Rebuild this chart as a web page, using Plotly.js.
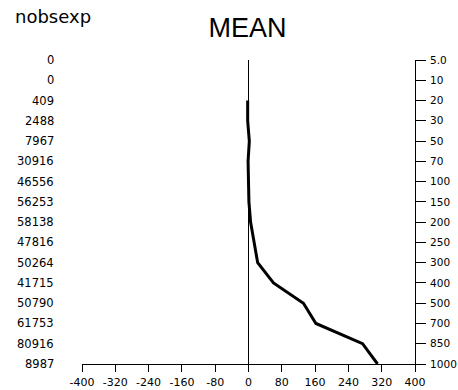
<!DOCTYPE html>
<html>
<head>
<meta charset="utf-8">
<script src="https://cdn.plot.ly/plotly-3.0.1.min.js"></script>
<style>html,body{margin:0;padding:0;background:#fff;}#chart{width:458px;height:390px;}</style>
</head>
<body>
<div id="chart"></div>
<script>
// Pressure levels (hPa), top to bottom
const levels = ["5.0","10","20","30","50","70","100","150","200","250","300","400","500","700","850","1000"];
// Number of observations per level (left-hand labels)
const nobsexp = ["0","0","409","2488","7967","30916","46556","56253","58138","47816","50264","41715","50790","61753","80916","8987"];
// Mean value per level (no data where nobs = 0)
const meanVals = [null,null,-2,-2,2,-1,0,1,5,13,22,60,132,162,274,310];
// Bottom axis ticks
const xTicks = [-400,-320,-240,-160,-80,0,80,160,240,320,400];

const W = 458, H = 390;
const L = 82, R = 43, T = 60, B = 26;
const pw = W - L - R, ph = H - T - B;

// left-hand labels, placed on the category index of each level
const annotations = nobsexp.map((n, i) => ({
  xref: 'paper', yref: 'y', x: (56 - L) / pw, y: levels.indexOf(levels[i]),
  xanchor: 'right', yanchor: 'middle', showarrow: false,
  text: n, font: {family: 'DejaVu Sans', size: 11.5, color: '#000'}
}));
annotations.push({
  xref: 'paper', yref: 'paper', x: (13 - L) / pw, y: (H - B - 17) / ph,
  xanchor: 'left', yanchor: 'middle', showarrow: false,
  text: 'nobsexp', font: {family: 'DejaVu Sans', size: 18, color: '#000'}
});

const trace = {
  type: 'scatter', mode: 'lines',
  x: meanVals, y: levels,
  line: {color: '#000', width: 3},
  connectgaps: false, hoverinfo: 'skip'
};

const layout = {
  width: W, height: H,
  margin: {l: L, r: R, t: T, b: B, pad: 0},
  paper_bgcolor: '#fff', plot_bgcolor: '#fff',
  showlegend: false,
  title: {text: 'MEAN', x: 247.5 / W, xanchor: 'center', xref: 'container',
          y: 1 - 28 / H, yanchor: 'middle', yref: 'container',
          font: {family: 'Liberation Sans', size: 27, color: '#000'}},
  xaxis: {
    range: [-400, 400], tickmode: 'array', tickvals: xTicks,
    ticktext: xTicks.map(String),
    ticks: 'outside', ticklen: 7, tickcolor: '#000', tickwidth: 1,
    ticklabelstandoff: 1,
    showline: true, linecolor: '#000', linewidth: 1,
    showgrid: false, zeroline: true, zerolinecolor: '#000', zerolinewidth: 1,
    tickfont: {family: 'DejaVu Sans', size: 11, color: '#000'}, fixedrange: true
  },
  yaxis: {
    type: 'category', categoryorder: 'array', categoryarray: levels,
    range: [levels.length - 1, 0], side: 'right',
    ticks: 'outside', ticklen: 10, tickcolor: '#000', tickwidth: 1,
    ticklabelstandoff: 2,
    showline: true, linecolor: '#000', linewidth: 1,
    showgrid: false, zeroline: false,
    tickfont: {family: 'DejaVu Sans', size: 10.5, color: '#000'}, fixedrange: true
  },
  annotations: annotations
};

Plotly.newPlot('chart', [trace], layout, {displayModeBar: false, staticPlot: true});
</script>
</body>
</html>
